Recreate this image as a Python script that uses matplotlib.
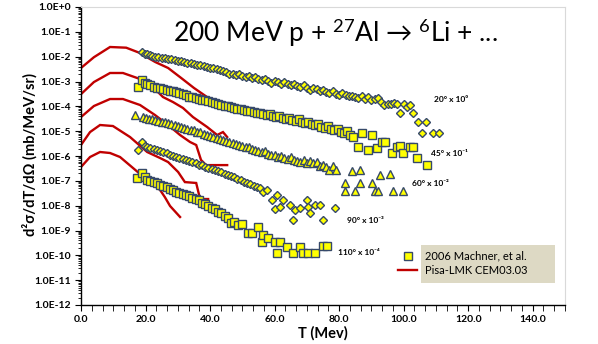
import numpy as np
import matplotlib
matplotlib.use("Agg")
import matplotlib.pyplot as plt
from matplotlib.ticker import FixedLocator, FuncFormatter, MultipleLocator, NullFormatter
from matplotlib.patches import Rectangle
from matplotlib.lines import Line2D

plt.rcParams['font.family'] = ['Lato', 'DejaVu Sans']
plt.rcParams['mathtext.fontset'] = 'custom'
plt.rcParams['mathtext.rm'] = 'Lato'
plt.rcParams['mathtext.it'] = 'Lato:italic'
plt.rcParams['mathtext.bf'] = 'Lato:bold'

# ---------------- data ----------------
# Pisa-LMK CEM03.03 calculations (T in MeV, scaled cross sections)
t_cem20 = [0, 4, 9, 14, 18, 23, 27, 31, 35, 39, 43]
y_cem20 = [3.5e-3, 9.5e-3, 2.45e-2, 2.3e-2, 1.45e-2, 6.1e-3, 3.5e-3, 1.4e-3, 5.5e-4, 2.4e-4, 1.4e-4]

t_cem45 = [0, 4, 9, 13, 18.3, 22.3, 25.4, 28.5, 31.6, 34.7, 39.1, 42.2, 44.0, 45.3]
y_cem45 = [3.1e-4, 9.5e-4, 2.2e-3, 2.2e-3, 1.26e-3, 6.0e-4, 2.37e-4, 1.49e-4, 8.6e-5, 3.7e-5,
           1.47e-5, 7.0e-6, 9.2e-6, 5.8e-6]

t_cem60 = [0, 4, 9, 13, 18.3, 22.9, 27.0, 30.7, 33.8, 35.7, 37.2, 38.8, 45.3]
y_cem60 = [3.7e-5, 1.03e-4, 1.97e-4, 1.97e-4, 1.13e-4, 4.5e-5, 1.77e-5, 7.0e-6, 3.66e-6, 2.77e-6,
           6.9e-7, 4.3e-7, 4.3e-7]

t_cem90 = [0, 2.8, 5.9, 9.9, 15.2, 20.5, 24.5, 27.0, 30.1, 32.2, 35.7, 36.9, 39.4]
y_cem90 = [2.77e-6, 9.2e-6, 1.77e-5, 1.61e-5, 5.8e-6, 1.45e-6, 8.3e-7, 5.7e-7, 2.27e-7, 8.9e-8,
           8.2e-8, 1.85e-8, 1.85e-8]

t_cem110 = [0, 2.8, 5.9, 9.0, 12.1, 16.1, 20.5, 24.5, 26.0, 27.6, 30.7]
y_cem110 = [3.6e-7, 9.1e-7, 1.45e-6, 1.32e-6, 9.1e-7, 3.3e-7, 1.08e-7, 4.3e-8, 2.2e-8, 9.7e-9, 3.5e-9]

# 2006 Machner et al. data (log10 of scaled cross section)
t_exp20 = [18.9, 19.7, 20.5, 21.3, 22, 23, 24, 25, 26, 27, 28, 29, 30, 31, 32, 33, 34, 35, 36, 37,
           38, 39, 40, 41, 42, 43, 44, 45, 46, 47, 48, 49, 50, 51, 52, 53, 54, 55, 56, 57, 58, 59,
           60, 61, 62, 63, 64, 65, 66, 67, 68, 69, 70, 71, 72, 73, 74, 75, 76, 77, 78, 79, 80, 81,
           82, 83, 84, 85, 86, 87, 88, 89, 90, 91, 92, 93, 94, 95, 96, 97, 98, 99, 100, 101, 102,
           103, 104.5, 105.7, 107, 109.1, 111]
lg_exp20 = [-1.81, -1.88, -1.90, -1.93, -1.96, -2.00, -2.02, -2.04, -2.07, -2.08, -2.11, -2.13,
            -2.17, -2.19, -2.22, -2.24, -2.27, -2.28, -2.33, -2.34, -2.37, -2.41, -2.44, -2.47,
            -2.50, -2.53, -2.56, -2.62, -2.68, -2.68, -2.74, -2.69, -2.76, -2.80, -2.78, -2.86,
            -2.83, -2.88, -2.93, -2.91, -2.98, -3.05, -2.97, -3.02, -3.09, -3.04, -3.12, -3.15,
            -3.10, -3.18, -3.24, -3.16, -3.25, -3.33, -3.28, -3.30, -3.38, -3.34, -3.42, -3.45,
            -3.40, -3.49, -3.53, -3.47, -3.56, -3.60, -3.58, -3.63, -3.66, -3.60, -3.70, -3.64,
            -3.75, -3.70, -3.67, -3.82, -3.95, -3.92, -3.90, -3.88, -3.90, -4.27, -3.92, -4.03,
            -3.95, -4.27, -4.63, -5.07, -4.63, -5.07, -5.07]

t_exp45 = [17.7, 18.9, 19.7, 20.5, 21.5, 22.5, 23.5, 24.5, 25.5, 26.5, 27.5, 28.5, 29.5, 30.5,
           31.5, 32.5, 33.5, 34.5, 35.5, 36.5, 37.5, 38.5, 39.5, 40.5, 41.5, 42.5, 43.5, 44.5,
           45.5, 46.5, 47.5, 48.5, 49.5, 50.5, 51.5, 52.5, 53.5, 54.5, 55.5, 56.5, 57.5, 58.5,
           59.5, 60.5, 61.5, 62.5, 63.5, 64.5, 65.5, 66.5, 67.5, 68.5, 69.5, 70.5, 71.5, 72.5,
           73.5, 74.5, 75.5, 76.5, 77.5, 78.5, 79.5, 80.5, 81.5, 82.5, 83.5, 84.3, 85.9, 87.1,
           89.0, 90.2, 91.8, 93.3, 94.3, 96.4, 98.0, 98.9, 99.8, 102.0, 103.0, 104.2, 107.3]
lg_exp45 = [-3.22, -2.94, -3.05, -3.10, -3.14, -3.22, -3.25, -3.28, -3.30, -3.34, -3.37, -3.40,
            -3.43, -3.48, -3.52, -3.56, -3.62, -3.64, -3.67, -3.70, -3.74, -3.76, -3.80, -3.84,
            -3.86, -3.90, -3.93, -3.97, -4.00, -4.04, -4.07, -4.10, -4.12, -4.16, -4.19, -4.18,
            -4.22, -4.27, -4.25, -4.30, -4.35, -4.32, -4.40, -4.42, -4.38, -4.47, -4.50, -4.45,
            -4.55, -4.58, -4.52, -4.62, -4.67, -4.62, -4.72, -4.76, -4.70, -4.82, -4.86, -4.80,
            -4.92, -4.95, -4.90, -5.02, -5.08, -5.00, -5.15, -5.24, -5.64, -5.07, -5.76, -5.16,
            -5.68, -5.44, -5.44, -5.88, -5.64, -5.60, -5.88, -5.64, -5.64, -6.08, -6.36]

t_exp60 = [16.7, 19.2, 20, 21, 22, 23, 24, 25, 26, 27, 28, 29, 30, 31, 32, 33, 34, 35, 36, 37,
           38, 39, 40, 41, 42, 43, 44, 45, 46, 47, 48, 49, 50, 51, 52, 53, 54, 55, 56, 57, 58,
           59, 60, 61, 62, 63, 64, 65, 66, 67, 68, 69, 70, 71, 72, 73, 74, 75, 76, 77, 78, 79,
           81.9, 81.9, 84, 85, 86.5, 86.5, 90.2, 91.2, 92.1, 92.7, 95.8, 96.7, 99.8]
lg_exp60 = [-4.35, -4.43, -4.45, -4.50, -4.52, -4.55, -4.58, -4.62, -4.65, -4.68, -4.72, -4.75,
            -4.80, -4.83, -4.86, -4.90, -4.94, -4.97, -5.02, -5.05, -5.10, -5.15, -5.20, -5.24,
            -5.27, -5.31, -5.35, -5.38, -5.43, -5.47, -5.50, -5.55, -5.58, -5.62, -5.65, -5.70,
            -5.74, -5.78, -5.82, -5.80, -5.90, -5.94, -5.97, -6.03, -5.98, -6.08, -6.12, -6.06,
            -6.17, -6.20, -6.24, -6.16, -6.28, -6.22, -6.30, -6.26, -6.40, -6.36, -6.45, -6.56,
            -6.40, -6.55, -7.09, -7.41, -6.60, -7.41, -6.56, -7.09, -7.09, -7.41, -7.41, -6.77,
            -6.73, -7.41, -7.41]

t_exp90 = [17.7, 18.9, 19.7, 20.5, 21.5, 22.5, 23.5, 24.5, 25.5, 26.5, 27.5, 28.5, 29.5, 30.5,
           31.5, 32.5, 33.5, 34.5, 35.5, 36.5, 37.5, 38.5, 39.5, 40.5, 41.5, 42.5, 43.5, 44.5,
           45.5, 46.5, 47.5, 48.5, 49.5, 50.5, 51.5, 52.5, 53.5, 54.5, 55.5, 56.4, 57.5, 59.2,
           60.2, 60.8, 61.7, 62.6, 64.8, 65.7, 66.4, 67.9, 70.1, 70.4, 71.0, 72.6, 74.1, 75.0,
           78.8]
lg_exp90 = [-5.76, -5.44, -5.58, -5.62, -5.66, -5.72, -5.76, -5.80, -5.84, -5.88, -5.94, -5.99,
            -6.03, -6.08, -6.13, -6.17, -6.21, -6.26, -6.30, -6.35, -6.38, -6.43, -6.47, -6.52,
            -6.57, -6.62, -6.65, -6.72, -6.76, -6.81, -6.86, -6.92, -6.97, -7.03, -7.08, -7.12,
            -7.20, -7.25, -7.30, -7.45, -7.35, -7.77, -8.14, -7.57, -8.05, -7.77, -7.97, -8.58,
            -8.18, -8.10, -7.77, -8.05, -8.30, -7.97, -7.97, -8.58, -8.10]

t_exp110 = [17.4, 18.9, 19.7, 20.5, 21.5, 22.5, 23.5, 24.5, 25.5, 26.5, 27.5, 28.5, 29.5, 30.5,
            31.5, 32.5, 33.5, 34.5, 35.5, 36.5, 37.5, 38.5, 39.5, 40.5, 41.5, 42.5, 43.5, 44.5,
            45.5, 46.5, 47.5, 48.7, 50.0, 51.8, 53.0, 54.9, 56.1, 56.4, 58.0, 60.2, 60.8, 61.7,
            63.9, 65.7, 67.9, 68.8, 70.4, 72.6, 75.0, 76.3]
lg_exp110 = [-6.89, -6.69, -6.85, -6.95, -7.00, -7.05, -7.10, -7.15, -7.20, -7.25, -7.32, -7.38,
             -7.43, -7.49, -7.55, -7.58, -7.62, -7.68, -7.72, -7.77, -7.88, -7.95, -8.02, -8.08,
             -8.12, -8.25, -8.30, -8.42, -8.50, -8.68, -8.65, -8.78, -8.75, -9.10, -9.10, -8.86,
             -9.46, -9.18, -9.30, -9.46, -9.91, -9.46, -9.67, -9.91, -9.67, -9.91, -9.91, -9.91,
             -9.63, -9.63]

angle_labels = ["20° x 10⁰", "45° x 10⁻¹", "60° x 10⁻²", "90° x 10⁻³", "110° x 10⁻⁴"]
label_T = [109.5, 108.5, 102.5, 82.5, 79.5]
label_y = [1.9e-4, 1.3e-6, 8e-8, 2.6e-9, 1.3e-10]

x_ticks = [0, 20, 40, 60, 80, 100, 120, 140]
legend_labels = ["2006 Machner, et al.", "Pisa-LMK CEM03.03"]
title = r"200 MeV p + $^{27}$Al → $^{6}$Li + ..."

# ---------------- figure ----------------
W, H = 598, 344
fig = plt.figure(figsize=(W / 100, H / 100), dpi=100)
ax = fig.add_axes([81 / W, 1 - 305 / H, (565 - 81) / W, (305 - 7) / H])
ax.set_yscale('log')
ax.set_xlim(0, 150)
ax.set_ylim(1e-12, 1e0)

red = '#C00000'
yel = '#FFFF00'
edge = '#36496A'

for t, y in [(t_cem20, y_cem20), (t_cem45, y_cem45), (t_cem60, y_cem60),
             (t_cem90, y_cem90), (t_cem110, y_cem110)]:
    ax.plot(t, y, color=red, lw=1.7, zorder=2, solid_joinstyle='miter')

mk = dict(linestyle='none', mfc=yel, mec=edge, mew=1.0, zorder=3)
ax.plot(t_exp20, 10.0 ** np.array(lg_exp20), marker='D', ms=4.4, **mk)
ax.plot(t_exp45, 10.0 ** np.array(lg_exp45), marker='s', ms=5.2, **mk)
ax.plot(t_exp60, 10.0 ** np.array(lg_exp60), marker='^', ms=6.0, **mk)
ax.plot(t_exp90, 10.0 ** np.array(lg_exp90), marker='D', ms=4.4, **mk)
ax.plot(t_exp110, 10.0 ** np.array(lg_exp110), marker='s', ms=5.2, **mk)

for s, tx, ty in zip(angle_labels, label_T, label_y):
    ax.text(tx, ty, s, fontsize=6, fontweight='bold', ha='left', va='center')

# axes styling
for side in ['top', 'right']:
    ax.spines[side].set_color('#D9D9D9')
    ax.spines[side].set_linewidth(0.8)
for side in ['left', 'bottom']:
    ax.spines[side].set_color('black')
    ax.spines[side].set_linewidth(1.0)

ax.yaxis.set_major_locator(FixedLocator([10.0 ** k for k in range(-12, 1)]))
ax.yaxis.set_minor_locator(FixedLocator([m * 10.0 ** k for k in range(-12, 0) for m in range(2, 10)]))
ax.yaxis.set_major_formatter(FuncFormatter(lambda v, p: "1.0E%+d" % int(round(np.log10(v)))))
ax.yaxis.set_minor_formatter(NullFormatter())
ax.xaxis.set_major_locator(FixedLocator(x_ticks))
ax.xaxis.set_minor_locator(MultipleLocator(10 / 3))
ax.xaxis.set_major_formatter(FuncFormatter(lambda v, p: "%.1f" % v))
ax.tick_params(axis='both', which='major', length=4, width=0.8, direction='out',
               labelsize=7.5, pad=3)
ax.tick_params(axis='both', which='minor', length=2.5, width=0.6, direction='out')
ax.tick_params(axis='x', which='minor', length=4)
ax.tick_params(top=False, right=False, which='both')
for lab in ax.get_xticklabels() + ax.get_yticklabels():
    lab.set_fontweight('bold')

ax.set_xlabel("T (Mev)", fontsize=10.5, fontweight='bold', labelpad=2)
fig.text(30 / W, 1 - 155 / H, "d²σ/dT/dΩ (mb/MeV/sr)", rotation=90, fontsize=10.5,
         fontweight='bold', ha='center', va='center')

fig.text(335 / W, 1 - 33 / H, title, fontsize=19, ha='center', va='center')

# legend (manual, Excel-style)
fig.patches.append(Rectangle((421 / W, 1 - 283 / H), 134 / W, 38 / H, transform=fig.transFigure,
                             facecolor='#DDD9C4', edgecolor='none', zorder=5))
fig.lines.append(Line2D([408 / W], [1 - 256 / H], transform=fig.transFigure, marker='s', ms=6,
                        mfc=yel, mec=edge, mew=1.0, linestyle='none', zorder=6))
fig.lines.append(Line2D([398 / W, 417 / W], [1 - 270 / H, 1 - 270 / H], transform=fig.transFigure,
                        color=red, lw=1.7, zorder=6))
fig.text(425 / W, 1 - 256 / H, legend_labels[0], fontsize=8, va='center', ha='left', zorder=7)
fig.text(425 / W, 1 - 271 / H, legend_labels[1], fontsize=8, va='center', ha='left', zorder=7)

fig.savefig("out.png", dpi=100)
